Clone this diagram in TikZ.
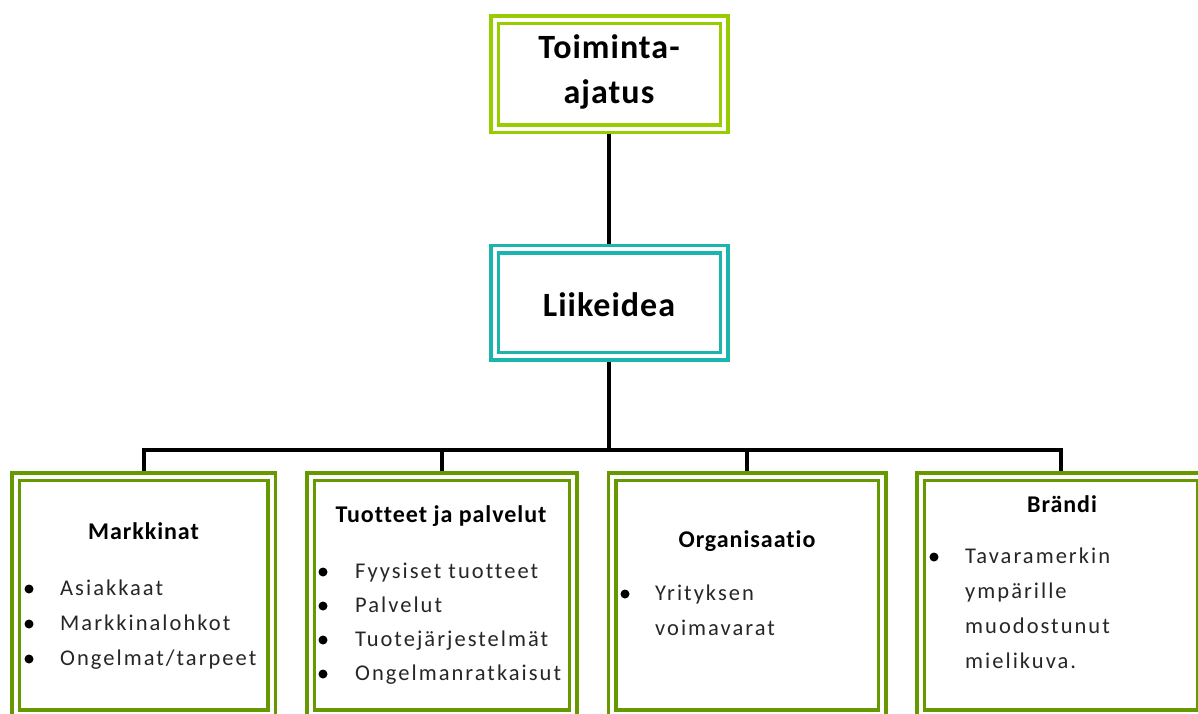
\documentclass[tikz,border=0pt]{standalone}
\usepackage{fontspec}
\setmainfont{Carlito}
\newfontfamily\bodyfont[LetterSpace=9,Ligatures=NoCommon]{Carlito}
\newfontfamily\subfont[LetterSpace=4,Ligatures=NoCommon]{Carlito}
\newfontfamily\headfont[LetterSpace=3,Ligatures=NoCommon]{Carlito}
\usetikzlibrary{backgrounds}
\definecolor{limeA}{HTML}{99CC00}
\definecolor{tealA}{HTML}{1CB5AD}
\definecolor{greenA}{HTML}{669900}
\begin{document}
\begin{tikzpicture}[x=1pt,y=-1pt,
  box/.style={draw, line width=3.5pt, double=white, double distance=4pt, inner sep=0pt, minimum height=237pt},
  head/.style={font=\headfont\bfseries\fontsize{34}{40}\selectfont, anchor=base, inner sep=0pt},
  sub/.style={font=\subfont\bfseries\fontsize{24}{29}\selectfont, anchor=base, inner sep=0pt},
  item/.style={font=\bodyfont\fontsize{22.5}{26}\selectfont, anchor=base west, inner sep=0pt, text=black!85},
  dot/.style={circle, fill=black, inner sep=0pt, minimum size=9pt},
  conn/.style={draw=black, line width=4pt, miter limit=10}]
\useasboundingbox (0,0) rectangle (1198,713);

% top boxes
\node[box, draw=limeA, minimum width=229.5pt, minimum height=109pt] (ta) at (609.25,74) {};
\node[head] (ta1) at (609,58) {Toiminta-};
\node[head] (ta2) at (609,103) {ajatus};
\node[box, draw=tealA, minimum width=229.5pt, minimum height=107pt] (li) at (609.25,302.5) {};
\node[head] (lit) at (609,316) {Liikeidea};

% bottom boxes
\node[box, draw=greenA, minimum width=256pt] (ma) at (143.5,595) {};
\node[box, draw=greenA, minimum width=262.5pt] (tu) at (441.75,595) {};
\node[box, draw=greenA, minimum width=270pt] (or) at (747,595) {};
\node[box, draw=greenA, minimum width=281pt] (br) at (1061,595) {};

% Markkinat
\node[sub] (mat) at (143.5,539) {Markkinat};
\node[dot] (mad1) at (29,589) {};
\node[item] (ma1) at (60,595) {Asiakkaat};
\node[dot] (mad2) at (29,624) {};
\node[item] (ma2) at (60,630) {Markkinalohkot};
\node[dot] (mad3) at (29,659) {};
\node[item] (ma3) at (60,665) {Ongelmat/tarpeet};

% Tuotteet ja palvelut
\node[sub] (tut) at (441,522) {Tuotteet ja palvelut};
\node[dot] (tud1) at (323,572) {};
\node[item] (tu1) at (355,578) {Fyysiset tuotteet};
\node[dot] (tud2) at (323,606) {};
\node[item] (tu2) at (355,612) {Palvelut};
\node[dot] (tud3) at (323,640) {};
\node[item] (tu3) at (355,646) {Tuotejärjestelmät};
\node[dot] (tud4) at (323,674) {};
\node[item] (tu4) at (355,680) {Ongelmanratkaisut};

% Organisaatio
\node[sub] (ort) at (747,547) {Organisaatio};
\node[dot] (ord1) at (625,594) {};
\node[item] (or1) at (655,600) {Yrityksen};
\node[item] (or2) at (655,635) {voimavarat};

% Brändi
\node[sub] (brt) at (1062,512) {Brändi};
\node[dot] (brd1) at (934,557) {};
\node[item] (br1) at (965,563) {Tavaramerkin};
\node[item] (br2) at (965,598) {ympärille};
\node[item] (br3) at (965,633) {muodostunut};
\node[item] (br4) at (965,668) {mielikuva.};

% connectors
\begin{scope}[on background layer]
\coordinate (bus) at (609,449.5);
\draw[conn] (ta.south) -- (li.north);
\draw[conn] (li.south) -- (li.south |- bus);
\draw[conn] (ma.north) -- (ma.north |- bus) -- (br.north |- bus) -- (br.north);
\draw[conn] (tu.north |- bus) -- (tu.north);
\draw[conn] (or.north |- bus) -- (or.north);
\end{scope}
\end{tikzpicture}
\end{document}
